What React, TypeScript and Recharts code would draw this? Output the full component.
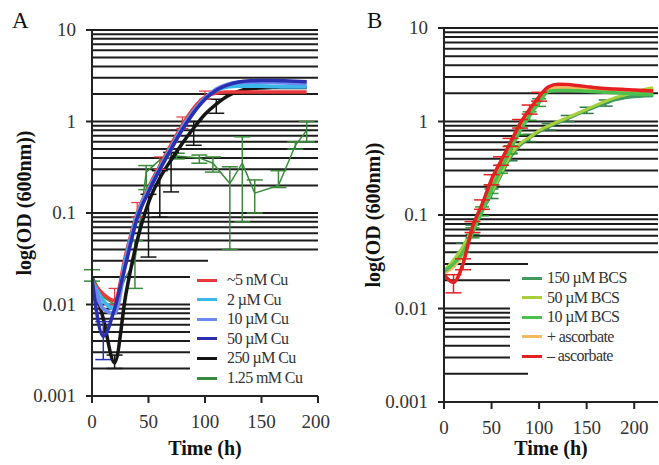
import { LineChart, Line, XAxis, YAxis, CartesianGrid, ErrorBar } from 'recharts'

// shared log axis
const decades = [0.001, 0.01, 0.1, 1, 10]
const gridTicks = [
  0.001, 0.002, 0.003, 0.004, 0.005, 0.006, 0.007, 0.008, 0.009,
  0.01, 0.02, 0.03, 0.04, 0.05, 0.06, 0.07, 0.08, 0.09,
  0.1, 0.2, 0.3, 0.4, 0.5, 0.6, 0.7, 0.8, 0.9,
  1, 2, 3, 4, 5, 6, 7, 8, 9, 10,
]
const xTicks = [0, 50, 100, 150, 200]

// panel A - copper
const timesA = [0, 10, 20, 30, 40, 50, 60, 70, 80, 90, 100, 110, 120, 130, 140, 150, 160, 170, 180, 190]
const cu5nM = [0.018, 0.013, 0.011, 0.036, 0.1, 0.19, 0.33, 0.56, 0.92, 1.4, 1.85, 2.05, 2.1, 2.1, 2.1, 2.1, 2.1, 2.1, 2.1, 2.1]
const cu2uM = [0.018, 0.011, 0.009, 0.032, 0.095, 0.18, 0.31, 0.52, 0.86, 1.3, 1.8, 2.2, 2.4, 2.45, 2.45, 2.44, 2.42, 2.4, 2.4, 2.4]
const cu10uM = [0.019, 0.009, 0.008, 0.03, 0.09, 0.175, 0.3, 0.5, 0.83, 1.27, 1.78, 2.25, 2.55, 2.68, 2.7, 2.7, 2.68, 2.65, 2.62, 2.6]
const cu50uM = [0.019, 0.0045, 0.009, 0.028, 0.088, 0.17, 0.3, 0.5, 0.82, 1.25, 1.75, 2.2, 2.5, 2.7, 2.78, 2.8, 2.8, 2.78, 2.75, 2.72]
const cu250uM = [0.02, 0.007, 0.0023, 0.013, 0.05, 0.13, 0.24, 0.38, 0.58, 0.85, 1.2, 1.55, 1.9, 2.15, 2.28, 2.33, 2.35, 2.35, 2.35, 2.35]
const cu5nMErr = [null, null, [0.001, 0.004], null, [0.01, 0.03], null, [0.03, 0.08], null, [0.08, 0.2], null, [0.1, 0.3], null, null, null, null, null, null, null, null, null]
const cu50uMErr = [null, [0.002, 0.002], null, null, null, null, null, null, null, null, null, null, null, null, null, null, null, null, null, null]
const cu250uMErr = [null, null, [0.0003, 0.0005], null, null, [0.097, 0.03], [0.15, 0.05], [0.21, 0.08], null, [0.3, 0.15], null, [0.32, 0.2], null, null, null, null, null, null, null, null]

const timesGreen = [0, 10, 20, 30, 38, 48, 60, 75, 95, 107, 122, 133, 144, 165, 180, 190]
const cu125mM = [0.021, 0.012, 0.01, 0.02, 0.03, 0.28, 0.38, 0.42, 0.4, 0.35, 0.21, 0.35, 0.165, 0.2, 0.55, 0.8]
const cu125mMErr = [[0.003, 0.003], null, null, null, [0.015, 0.02], [0.1, 0.05], null, [0.03, 0.03], [0.05, 0.03], [0.07, 0.06], [0.17, 0.11], [0.27, 0.33], [0.065, 0.065], [0.01, 0.09], [0.05, 0.05], [0.2, 0.2]]

// panel B - chelator / ascorbate
const timesB = [0, 10, 20, 30, 40, 50, 60, 70, 80, 90, 100, 110, 120, 130, 140, 150, 160, 170, 180, 190, 200, 210, 220]
const bcs150 = [0.025, 0.032, 0.045, 0.07, 0.11, 0.17, 0.27, 0.42, 0.56, 0.67, 0.78, 0.88, 0.98, 1.08, 1.2, 1.32, 1.45, 1.58, 1.72, 1.8, 1.85, 1.88, 1.9]
const bcs50 = [0.025, 0.033, 0.046, 0.072, 0.115, 0.175, 0.28, 0.44, 0.58, 0.68, 0.8, 0.9, 1.0, 1.1, 1.22, 1.35, 1.5, 1.65, 1.8, 1.92, 2.05, 2.2, 2.3]
const bcs10 = [0.025, 0.03, 0.04, 0.065, 0.11, 0.19, 0.31, 0.5, 0.8, 1.15, 1.6, 2.1, 2.15, 2.15, 2.13, 2.1, 2.08, 2.05, 2.03, 2.0, 1.98, 1.96, 1.95]
const plusAsc = [0.024, 0.028, 0.038, 0.07, 0.12, 0.21, 0.34, 0.55, 0.88, 1.25, 1.75, 2.2, 2.3, 2.28, 2.25, 2.22, 2.2, 2.18, 2.16, 2.15, 2.14, 2.13, 2.12]
const minusAsc = [0.023, 0.019, 0.03, 0.075, 0.13, 0.24, 0.38, 0.6, 0.95, 1.35, 1.85, 2.35, 2.5, 2.48, 2.42, 2.36, 2.3, 2.26, 2.22, 2.2, 2.17, 2.15, 2.12]
const minusAscErr = [null, [0.0043, 0.004], [0.004, 0.004], [0.01, 0.01], [0.015, 0.015], [0.03, 0.03], [0.04, 0.04], [0.06, 0.06], [0.1, 0.1], [0.15, 0.15], [0.2, 0.2], null, null, null, null, null, null, null, null, null, null, null, null]
const bcs10Err = [null, null, null, [0.008, 0.008], [0.012, 0.012], [0.02, 0.02], [0.03, 0.03], [0.05, 0.05], [0.08, 0.08], [0.12, 0.12], [0.15, 0.15], null, null, null, null, null, null, null, null, null, null, null, null]
const bcs150Err = [null, null, [0.005, 0.005], [0.008, 0.008], null, [0.02, 0.02], null, [0.04, 0.04], null, [0.06, 0.06], null, [0.07, 0.07], null, [0.08, 0.08], null, [0.1, 0.1], null, [0.12, 0.12], null, null, null, null, null]

const rowsA = timesA.map((t, i) => ({
  t,
  cu5nM: cu5nM[i],
  cu2uM: cu2uM[i],
  cu10uM: cu10uM[i],
  cu50uM: cu50uM[i],
  cu250uM: cu250uM[i],
  cu5nMErr: cu5nMErr[i] ?? undefined,
  cu50uMErr: cu50uMErr[i] ?? undefined,
  cu250uMErr: cu250uMErr[i] ?? undefined,
}))
const rowsGreen = timesGreen.map((t, i) => ({ t, v: cu125mM[i], err: cu125mMErr[i] ?? undefined }))
const rowsB = timesB.map((t, i) => ({
  t,
  bcs150: bcs150[i],
  bcs50: bcs50[i],
  bcs10: bcs10[i],
  plusAsc: plusAsc[i],
  minusAsc: minusAsc[i],
  minusAscErr: minusAscErr[i] ?? undefined,
  bcs10Err: bcs10Err[i] ?? undefined,
  bcs150Err: bcs150Err[i] ?? undefined,
}))

const legendA = [
  { name: '~5 nM Cu', color: '#e8383c' },
  { name: '2 µM Cu', color: '#3cb8ea' },
  { name: '10 µM Cu', color: '#6f88f0' },
  { name: '50 µM Cu', color: '#2a2fb0' },
  { name: '250 µM Cu', color: '#151515' },
  { name: '1.25 mM Cu', color: '#3a8a3a' },
]
const legendB = [
  { name: '150 µM BCS', color: '#3f9a5f' },
  { name: '50 µM BCS', color: '#a8cf3c' },
  { name: '10 µM BCS', color: '#4cc04c' },
  { name: '+ ascorbate', color: '#f4b860' },
  { name: '– ascorbate', color: '#e42020' },
]

const serif = '"Liberation Serif", "DejaVu Serif", serif'

const YTick = (props: any) => {
  const { x, y, payload } = props
  if (!decades.includes(payload.value)) return null
  return (
    <g>
      <line x1={x + 10} x2={x + 16} y1={y} y2={y} stroke="#222" strokeWidth={2} />
      <text x={x} y={y} dy={6} textAnchor="end" fontSize={19} fill="#333" fontFamily={serif}>
        {payload.value}
      </text>
    </g>
  )
}

function Legend({ items, left, top, lineX, textX }: any) {
  return (
    <>
      {items.map((it: any, i: number) => (
        <div key={it.name} style={{ position: 'absolute', left, top: top + i * 19.6 - 10, height: 20, display: 'flex', alignItems: 'center' }}>
          <div style={{ width: 20, height: 3, background: it.color, marginRight: textX - lineX - 20 }} />
          <span style={{ fontSize: 16, color: '#333', fontFamily: serif, letterSpacing: -0.6, whiteSpace: 'nowrap' }}>{it.name}</span>
        </div>
      ))}
    </>
  )
}

const white = (left: number, top: number, width: number, height: number) => (
  <div style={{ position: 'absolute', left, top, width, height, background: '#fff' }} />
)

const label: any = { position: 'absolute', fontFamily: serif, fontWeight: 'bold', fontSize: 20, color: '#111', whiteSpace: 'nowrap' }

export default function App() {
  return (
    <div style={{ position: 'absolute', left: 0, top: 0, width: 659, height: 465, background: '#fff', overflow: 'hidden' }}>
      <div style={{ position: 'absolute', left: 0, top: 0 }}>
        <LineChart width={330} height={465} data={rowsA} margin={{ top: 30, right: 12, bottom: 39, left: 32 }}>
          <CartesianGrid vertical={false} stroke="#1c1c1c" strokeWidth={2} />
          <XAxis dataKey="t" type="number" domain={[0, 200]} ticks={xTicks} height={30} stroke="#222" strokeWidth={2}
            tickSize={7} tickMargin={12} tick={{ fontSize: 19, fill: '#333', fontFamily: serif }} allowDataOverflow />
          <YAxis scale="log" domain={[0.001, 10]} ticks={gridTicks} width={60} stroke="#222" strokeWidth={2}
            tickLine={false} tickSize={6} tickMargin={10} tick={<YTick />} interval={0} allowDataOverflow />
          <Line data={rowsGreen} dataKey="v" stroke="#3a8a3a" strokeWidth={1.5} dot={false} isAnimationActive={false}>
            <ErrorBar dataKey="err" stroke="#3a8a3a" width={8} strokeWidth={1.5} />
          </Line>
          <Line type="monotone" dataKey="cu250uM" stroke="#151515" strokeWidth={3.5} dot={false} isAnimationActive={false}>
            <ErrorBar dataKey="cu250uMErr" stroke="#151515" width={8} strokeWidth={1.5} />
          </Line>
          <Line type="monotone" dataKey="cu5nM" stroke="#e8383c" strokeWidth={3.5} dot={false} isAnimationActive={false}>
            <ErrorBar dataKey="cu5nMErr" stroke="#e8383c" width={6} strokeWidth={1.2} />
          </Line>
          <Line type="monotone" dataKey="cu2uM" stroke="#3cb8ea" strokeWidth={4} dot={false} isAnimationActive={false} />
          <Line type="monotone" dataKey="cu10uM" stroke="#6f88f0" strokeWidth={4} dot={false} isAnimationActive={false} />
          <Line type="monotone" dataKey="cu50uM" stroke="#2a2fb0" strokeWidth={3.5} dot={false} isAnimationActive={false}>
            <ErrorBar dataKey="cu50uMErr" stroke="#2a2fb0" width={8} strokeWidth={1.5} />
          </Line>
        </LineChart>
      </div>
      {white(208, 256, 112, 14)}
      {white(190, 270, 130, 121)}
      <Legend items={legendA} left={197} top={280} lineX={197} textX={227} />

      <div style={{ position: 'absolute', left: 330, top: 0 }}>
        <LineChart width={329} height={465} data={rowsB} margin={{ top: 28, right: 1, bottom: 33, left: 54 }}>
          <CartesianGrid vertical={false} stroke="#1c1c1c" strokeWidth={2} />
          <XAxis dataKey="t" type="number" domain={[0, 225]} ticks={xTicks} height={30} stroke="#222" strokeWidth={2}
            tickSize={7} tickMargin={12} tick={{ fontSize: 19, fill: '#333', fontFamily: serif }} allowDataOverflow />
          <YAxis scale="log" domain={[0.001, 10]} ticks={gridTicks} width={60} stroke="#222" strokeWidth={2}
            tickLine={false} tickSize={6} tickMargin={10} tick={<YTick />} interval={0} allowDataOverflow />
          <Line type="monotone" dataKey="plusAsc" stroke="#f4b860" strokeWidth={3.5} dot={false} isAnimationActive={false} />
          <Line type="monotone" dataKey="bcs150" stroke="#3f9a5f" strokeWidth={3.5} dot={false} isAnimationActive={false}>
            <ErrorBar dataKey="bcs150Err" stroke="#2f7a45" width={7} strokeWidth={1.5} />
          </Line>
          <Line type="monotone" dataKey="bcs50" stroke="#a8cf3c" strokeWidth={3} dot={false} isAnimationActive={false} />
          <Line type="monotone" dataKey="bcs10" stroke="#4cc04c" strokeWidth={3.5} dot={false} isAnimationActive={false}>
            <ErrorBar dataKey="bcs10Err" stroke="#2f9a2f" width={7} strokeWidth={1.5} />
          </Line>
          <Line type="monotone" dataKey="minusAsc" stroke="#e42020" strokeWidth={3.5} dot={false} isAnimationActive={false}>
            <ErrorBar dataKey="minusAscErr" stroke="#e42020" width={8} strokeWidth={1.5} />
          </Line>
        </LineChart>
      </div>
      {white(528, 256, 131, 128)}
      {white(510, 270, 149, 96)}
      <Legend items={legendB} left={522} top={278} lineX={522} textX={547} />

      <div style={{ ...label, left: 12, top: 8, fontSize: 23, fontWeight: 'normal' }}>A</div>
      <div style={{ ...label, left: 367, top: 8, fontSize: 23, fontWeight: 'normal' }}>B</div>
      <div style={{ ...label, left: 205, top: 448, transform: 'translate(-50%, -50%)' }}>Time (h)</div>
      <div style={{ ...label, left: 551, top: 448, transform: 'translate(-50%, -50%)' }}>Time (h)</div>
      <div style={{ ...label, left: 24, top: 203, transform: 'translate(-50%, -50%) rotate(-90deg)' }}>log(OD (600nm))</div>
      <div style={{ ...label, left: 373, top: 215, transform: 'translate(-50%, -50%) rotate(-90deg)' }}>log(OD (600nm))</div>
    </div>
  )
}
